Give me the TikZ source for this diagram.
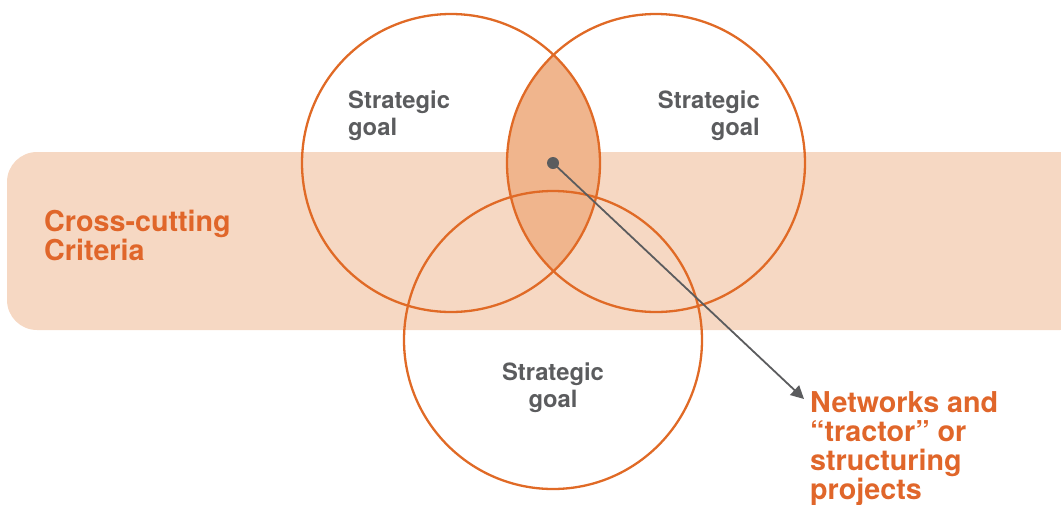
\documentclass[tikz,border=0pt]{standalone}
\usepackage{fontspec}
\setmainfont{TeX Gyre Heros}
\usetikzlibrary{arrows.meta}
\definecolor{orangeline}{HTML}{E06A26}
\definecolor{bandfill}{HTML}{F6D8C3}
\definecolor{lensfill}{HTML}{F0B58D}
\definecolor{orangetext}{HTML}{E0662A}
\definecolor{greytext}{HTML}{5B5C5E}
\begin{document}
\begin{tikzpicture}[x=1pt,y=-1pt,
  ring/.style={draw=orangeline,line width=2.3pt},
  goal/.style={text=greytext,font=\fontsize{23.8}{27}\selectfont\bfseries,inner sep=0pt},
  bigtext/.style={text=orangetext,font=\fontsize{28.7}{29}\selectfont\bfseries,inner sep=0pt,align=left},
  pointer/.style={draw=greytext,line width=1.8pt,-{Triangle[length=13pt,width=13pt]}}]
\useasboundingbox (0,0) rectangle (1061,504);
% band
\fill[bandfill,rounded corners=30pt] (7,152) rectangle (1090,330);
% lens
\begin{scope}
  \clip (451,163) circle[radius=149];
  \fill[lensfill] (656,163) circle[radius=149];
\end{scope}
% circles
\node[ring,circle,minimum size=298pt,inner sep=0pt] (cl) at (451,163) {};
\node[ring,circle,minimum size=298pt,inner sep=0pt] (cr) at (656,163) {};
\node[ring,circle,minimum size=298pt,inner sep=0pt] (cb) at (553,340) {};
% labels
\node[goal,anchor=north west,align=left] (gl) at (348,91) {Strategic\\goal};
\node[goal,anchor=north east,align=right] (gr) at (760,91) {Strategic\\goal};
\node[goal,anchor=north,align=center] (gb) at (553,363) {Strategic\\goal};
\node[bigtext,anchor=north west] (cc) at (44,210) {Cross-cutting\\Criteria};
\node[bigtext,anchor=north west] (nw) at (810,391.5) {Networks and\\“tractor” or\\structuring\\projects};
% dot and arrow
\fill[greytext] (553,163) circle[radius=6] coordinate (dot);
\coordinate (tip) at (804,399);
\draw[pointer] (dot) -- (tip);
\end{tikzpicture}
\end{document}
